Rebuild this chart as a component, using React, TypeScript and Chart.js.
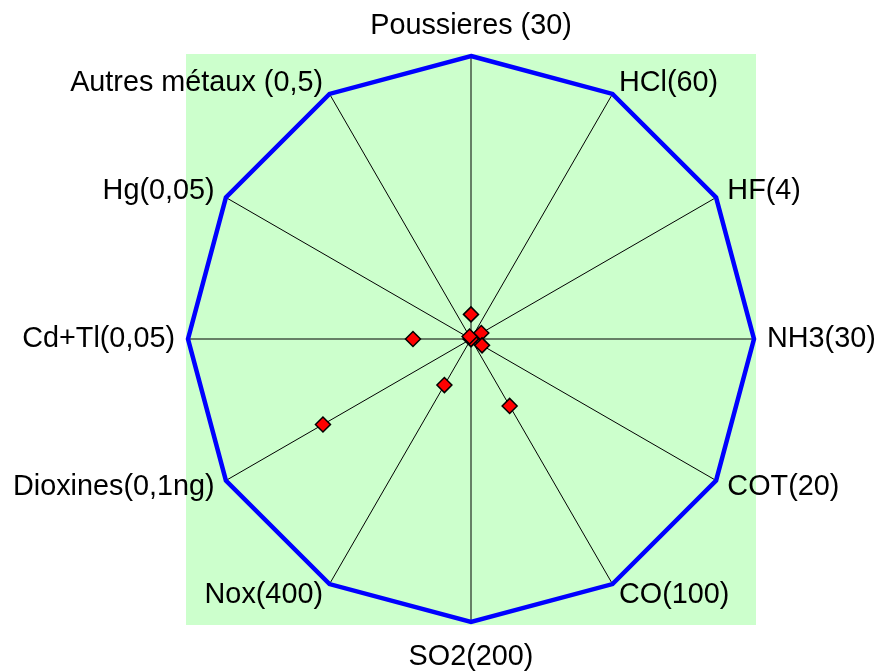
import React, { useEffect, useRef } from "react";
import { Chart, registerables } from "chart.js";

Chart.register(...registerables);

// Axis categories (limit values in parentheses)
const categories: string[] = [
  "Poussieres (30)",
  "HCl(60)",
  "HF(4)",
  "NH3(30)",
  "COT(20)",
  "CO(100)",
  "SO2(200)",
  "Nox(400)",
  "Dioxines(0,1ng)",
  "Cd+Tl(0,05)",
  "Hg(0,05)",
  "Autres métaux (0,5)",
];

// Regulatory limit, expressed as 100 % on every axis
const limitValues: number[] = [100, 100, 100, 100, 100, 100, 100, 100, 100, 100, 100, 100];

// Measured values as % of the limit
const measuredValues: number[] = [8.7, 0, 4.2, 0, 4.5, 27.3, 0, 18.8, 60.4, 20.5, 0, 1];

const SCALE_MIN = 0;
const SCALE_MAX = 100;

const FONT_SIZE = 28.8;
const FONT_FAMILY = 'Arial, "Liberation Sans", sans-serif';
const LABEL_GAP = 13;

const backgroundPlugin = {
  id: "plotBackground",
  beforeDraw(chart: any) {
    const scale = chart.scales.r;
    if (!scale) return;
    const ctx = chart.ctx;
    const half = scale.drawingArea + 2;
    ctx.save();
    ctx.fillStyle = "#CCFFCC";
    ctx.fillRect(scale.xCenter - half, scale.yCenter - half, half * 2, half * 2 + 1);
    ctx.restore();
  },
};

const labelPlugin = {
  id: "axisLabels",
  afterDraw(chart: any) {
    const scale = chart.scales.r;
    if (!scale) return;
    const ctx = chart.ctx;
    const n = categories.length;
    ctx.save();
    ctx.font = `${FONT_SIZE}px ${FONT_FAMILY}`;
    ctx.fillStyle = "#000000";
    for (let i = 0; i < n; i++) {
      const angleDeg = (i * 360) / n;
      const p = scale.getPointPosition(i, scale.drawingArea + LABEL_GAP);
      let x = p.x;
      let y = p.y;
      if (angleDeg === 0) {
        ctx.textAlign = "center";
        ctx.textBaseline = "alphabetic";
        y = p.y - 9;
      } else if (angleDeg === 180) {
        ctx.textAlign = "center";
        ctx.textBaseline = "alphabetic";
        y = p.y + 30;
      } else {
        ctx.textAlign = angleDeg < 180 ? "left" : "right";
        ctx.textBaseline = "middle";
      }
      ctx.fillText(categories[i], x, y);
    }
    ctx.restore();
  },
};

export default function App() {
  const canvasRef = useRef<HTMLCanvasElement | null>(null);

  useEffect(() => {
    if (!canvasRef.current) return;
    const chart = new Chart(canvasRef.current, {
      type: "radar",
      data: {
        labels: categories,
        datasets: [
          {
            label: "Mesures",
            data: measuredValues,
            showLine: false,
            fill: false,
            borderColor: "#000000",
            backgroundColor: "#FF0000",
            pointStyle: "rectRot",
            pointRadius: 7.5,
            pointHoverRadius: 7.5,
            pointBorderWidth: 1.5,
            pointBorderColor: "#000000",
            pointBackgroundColor: "#FF0000",
          },
          {
            label: "Limite",
            data: limitValues,
            fill: false,
            borderColor: "#0000FF",
            borderWidth: 4.5,
            borderJoinStyle: "miter",
            pointRadius: 0,
            pointHoverRadius: 0,
            tension: 0,
          },
        ],
      },
      options: {
        responsive: false,
        animation: false,
        devicePixelRatio: 1,
        layout: {
          padding: { left: 188, right: 127, top: 56, bottom: 49 },
        },
        plugins: {
          legend: { display: false },
          tooltip: { enabled: false },
          title: { display: false },
        },
        scales: {
          r: {
            min: SCALE_MIN,
            max: SCALE_MAX,
            beginAtZero: true,
            grid: { display: false },
            angleLines: { display: true, color: "#000000", lineWidth: 1 },
            ticks: { display: false },
            pointLabels: { display: false },
          },
        },
      },
      plugins: [backgroundPlugin, labelPlugin],
    } as any);
    return () => chart.destroy();
  }, []);

  return (
    <div style={{ position: "fixed", left: 0, top: 0, width: 881, height: 671 }}>
      <canvas ref={canvasRef} width={881} height={671} style={{ display: "block" }} />
    </div>
  );
}
